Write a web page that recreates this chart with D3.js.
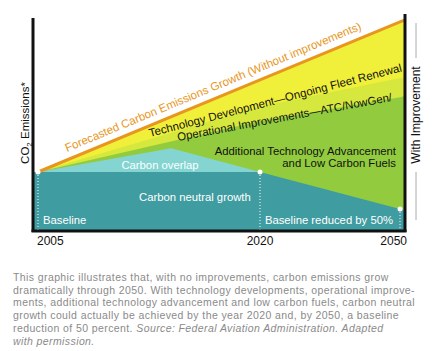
<!DOCTYPE html>
<html>
<head>
<meta charset="utf-8">
<script src="https://cdn.jsdelivr.net/npm/d3@7"></script>
<style>
body { margin: 0; background: #fff; }
svg text { font-family: "Liberation Sans", Arial, sans-serif; }
</style>
</head>
<body>
<div id="chart"></div>
<script>
let width = 439,
	height = 351;

// years shown on the axis, plus the right plot edge
let years = [2005, 2020, 2050, 2051];
let tickYears = [2005, 2020, 2050];

// CO2 emissions, baseline 2005 = 100
let forecast = [100, 259, 359, 362];
let techDev = [100, 213, 262, 264];
let opsImprove = [100, 188, 229, 231];
let neutral = [100, 100, 36, 34];

// carbon overlap bump between 2005 and 2020
let overlapYears = [2005, 2014, 2020];
let overlap = [100, 141, 100];

let caption = [
	"This graphic illustrates that, with no improvements, carbon emissions grow",
	"dramatically through 2050. With technology developments, operational improve-",
	"ments, additional technology advancement and low carbon fuels, carbon neutral",
	"growth could actually be achieved by the year 2020 and, by 2050, a baseline",
	"reduction of 50 percent. ",
	""
];
let captionItalic = ["", "", "", "", "Source: Federal Aviation Administration. Adapted", "with permission."];

let plotLeft = 33, plotRight = 405, plotTop = 14, plotBottom = 231;

let svg = d3.select('#chart').append('svg')
	.attr('width', width)
	.attr('height', height)

let x = d3.scaleLinear()
	.domain([2005, 2020, 2050])
	.range([38, 260, 400]);

let y = d3.scaleLinear()
	.domain([0, 100])
	.range([plotBottom - 1, plotBottom - 59]);

function rows(vals) {
	return years.map(function (yr, i) { return { year: yr, v: vals[i] }; });
}

// area down to the bottom of the plot; later layers paint over earlier ones
function fill(vals, color, xs) {
	let data = (xs || years).map(function (yr, i) { return { year: yr, v: vals[i] }; });
	let area = d3.area()
		.x(function (d) { return x(d.year) })
		.y0(plotBottom)
		.y1(function (d) { return y(d.v) });
	svg.append('path')
		.datum(data)
		.attr('d', area)
		.attr('fill', color);
}

fill(forecast, '#f0f03a');
fill(techDev, '#d6e83e');
fill(opsImprove, '#92cc3e');
fill(overlap, '#84d4d2', overlapYears);

// teal neutral-growth block reaches the left axis
let neutralData = [{ year: x.invert(plotLeft), v: neutral[0] }].concat(rows(neutral));
svg.append('path')
	.datum(neutralData)
	.attr('d', d3.area()
		.x(function (d) { return x(d.year) })
		.y0(plotBottom)
		.y1(function (d) { return y(d.v) }))
	.attr('fill', '#3f9ca0');

// forecast line
svg.append('path')
	.datum(rows(forecast))
	.attr('d', d3.line()
		.x(function (d) { return x(d.year) })
		.y(function (d) { return y(d.v) }))
	.attr('fill', 'none')
	.attr('stroke', '#e8961e')
	.attr('stroke-width', 3);

// dotted drop lines and dots
let dots = [{ year: 2005, v: neutral[0] }, { year: 2020, v: neutral[1] }, { year: 2050, v: neutral[2] }];
svg.selectAll('.drop')
	.data(dots)
	.enter().append('line').classed('drop', true)
	.attr('x1', function (d) { return x(d.year) })
	.attr('x2', function (d) { return x(d.year) })
	.attr('y1', function (d) { return y(d.v) })
	.attr('y2', plotBottom)
	.attr('stroke', '#fff')
	.attr('stroke-width', 1)
	.attr('stroke-dasharray', '1,2');
svg.selectAll('.dot')
	.data(dots)
	.enter().append('circle').classed('dot', true)
	.attr('cx', function (d) { return x(d.year) })
	.attr('cy', function (d) { return y(d.v) })
	.attr('r', 2.5)
	.attr('fill', '#fff');

// axes frame
svg.append('line').attr('x1', plotLeft).attr('x2', plotLeft).attr('y1', plotTop + 4).attr('y2', plotBottom + 1)
	.attr('stroke', '#111').attr('stroke-width', 3);
svg.append('line').attr('x1', plotLeft - 1.5).attr('x2', plotRight + 1.5).attr('y1', plotBottom).attr('y2', plotBottom)
	.attr('stroke', '#111').attr('stroke-width', 3);
svg.append('line').attr('x1', plotRight).attr('x2', plotRight).attr('y1', plotTop).attr('y2', plotBottom + 1)
	.attr('stroke', '#111').attr('stroke-width', 3);

// year labels
svg.selectAll('.yr')
	.data(tickYears)
	.enter().append('text').classed('yr', true)
	.attr('x', function (d, i) { return i === 0 ? x(d) - 1 : (i === 2 ? plotRight + 2 : x(d)) })
	.attr('y', plotBottom + 14)
	.attr('text-anchor', function (d, i) { return i === 0 ? 'start' : (i === 2 ? 'end' : 'middle') })
	.style('font-size', '12px')
	.attr('fill', '#111')
	.text(function (d) { return d });

// y label
let yl = svg.append('text')
	.attr('transform', 'translate(29,123) rotate(-90)')
	.attr('text-anchor', 'middle')
	.style('font-size', '11.5px')
	.attr('fill', '#111');
yl.append('tspan').text('CO');
yl.append('tspan').text('2').style('font-size', '8px').attr('dy', 3);
yl.append('tspan').text(' Emissions*').attr('dy', -3);

// right label
svg.append('text')
	.attr('transform', 'translate(420,115) rotate(-90)')
	.attr('text-anchor', 'middle')
	.style('font-size', '12px')
	.attr('fill', '#111')
	.text('With Improvement');
svg.append('line').attr('x1', 416).attr('x2', 416).attr('y1', 23).attr('y2', 58).attr('stroke', '#aaa');
svg.append('line').attr('x1', 416).attr('x2', 416).attr('y1', 172).attr('y2', 220).attr('stroke', '#aaa');

// slanted band labels
function slanted(tx, ty, angle, size, txt, color) {
	svg.append('text')
		.attr('transform', 'translate(' + tx + ',' + ty + ') rotate(' + angle + ')')
		.style('font-size', size + 'px')
		.attr('fill', color)
		.text(txt);
}
slanted(67, 152, -22.6, 11.5, 'Forecasted Carbon Emissions Growth (Without improvements)', '#e8961e');
slanted(150, 137, -14.6, 11.5, 'Technology Development\u2014Ongoing Fleet Renewal', '#111');
slanted(178, 141, -10.6, 11.4, 'Operational Improvements\u2014ATC/NowGen/', '#111');

// flat labels
function label(tx, ty, anchor, txt, color) {
	svg.append('text')
		.attr('x', tx).attr('y', ty)
		.attr('text-anchor', anchor)
		.style('font-size', '11.3px')
		.attr('fill', color)
		.text(txt);
}
label(396, 155, 'end', 'Additional Technology Advancement', '#111');
label(396, 167, 'end', 'and Low Carbon Fuels', '#111');
label(160, 169, 'middle', 'Carbon overlap', '#fff');
label(139, 201, 'start', 'Carbon neutral growth', '#fff');
label(43, 224, 'start', 'Baseline', '#fff');
label(393, 224, 'end', 'Baseline reduced by 50%', '#fff');

// caption
let cap = svg.selectAll('.cap')
	.data(caption)
	.enter().append('text').classed('cap', true)
	.attr('x', 13)
	.attr('y', function (d, i) { return 281 + i * 12.7 })
	.style('font-size', '10.5px')
	.style('letter-spacing', '0.4px')
	.attr('fill', '#8a8a8a');
cap.append('tspan').text(function (d) { return d });
cap.append('tspan').style('font-style', 'italic').text(function (d, i) { return captionItalic[i] });
</script>
</body>
</html>
